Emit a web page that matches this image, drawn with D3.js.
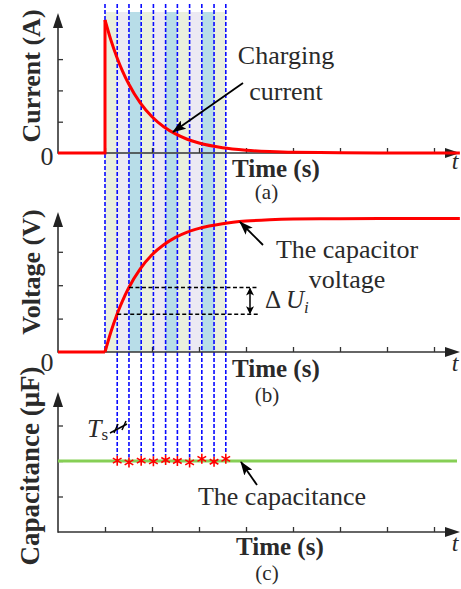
<!DOCTYPE html>
<html><head><meta charset="utf-8">
<script src="https://cdn.jsdelivr.net/npm/d3@7"></script>
<style>
body{margin:0;background:#fff}
svg{display:block}
text{font-family:"Liberation Serif","Times New Roman",serif;fill:#2a2a2a}
</style>
</head><body><script>
// time axis ticks (arbitrary time units) and the sampling instants kTs
const timeTicks = [1, 2, 3, 4, 5, 6, 7, 8];
const sampleTimes = [1.00, 1.26, 1.51, 1.77, 2.03, 2.29, 2.54, 2.80, 3.06, 3.32, 3.57];
const bandColors = ["#eaf0de", "#ece9f3", "#b8dde8"];
const yTickValues = [1, 2, 3];

// charging current (t, i)
const currentStep = [[0, 0], [1, 0], [1, 4.25]];
const currentDecay = [[1.00, 4.25], [1.125, 3.61], [1.25, 3.07], [1.375, 2.61], [1.5, 2.22], [1.75, 1.60],
  [2.0, 1.16], [2.25, 0.84], [2.5, 0.61], [2.75, 0.44], [3.0, 0.32], [3.5, 0.17], [4.0, 0.09],
  [4.5, 0.045], [5.0, 0.02], [6.0, 0.01], [7.0, 0.0], [8.55, 0.0]];

// capacitor voltage (t, v)
const voltageFlat = [[0, 0], [1, 0]];
const voltageRise = [[1.0, 0], [1.125, 0.60], [1.25, 1.11], [1.375, 1.54], [1.5, 1.91], [1.75, 2.49],
  [2.0, 2.91], [2.25, 3.21], [2.5, 3.43], [2.75, 3.59], [3.0, 3.70], [3.5, 3.84], [4.0, 3.92],
  [4.5, 3.96], [5.0, 3.98], [6.0, 3.99], [7.0, 4.0], [8.55, 4.0]];
const deltaULevels = [1.13, 1.93];

// capacitance: reference level and the estimate at each sampling instant
const capacitanceLevel = 2.0;
const capacitanceSamples = [2.01, 1.96, 2.01, 1.99, 2.03, 2.00, 1.96, 2.06, 1.98, 2.06];

const W = 461, H = 589;
const svg = d3.select("body").append("svg").attr("width", W).attr("height", H);

const x = d3.scaleLinear().domain([0, 8]).range([58, 434]);
const yI = d3.scaleLinear().domain([0, 3]).range([153, 59.1]);
const yV = d3.scaleLinear().domain([0, 3]).range([352, 251.8]);
const yC = d3.scaleLinear().domain([0, 3]).range([532, 425.5]);

const defs = svg.append("defs");
defs.append("marker").attr("id", "ah").attr("markerUnits", "userSpaceOnUse")
  .attr("markerWidth", 14).attr("markerHeight", 10).attr("refX", 13).attr("refY", 5)
  .attr("orient", "auto")
  .append("path").attr("d", "M0,0 L14,5 L0,10 L3,5 Z").attr("fill", "#000");
defs.append("marker").attr("id", "ahs").attr("markerUnits", "userSpaceOnUse")
  .attr("markerWidth", 8).attr("markerHeight", 8).attr("refX", 7).attr("refY", 4)
  .attr("orient", "auto-start-reverse")
  .append("path").attr("d", "M0,0 L8,4 L0,8 L2,4 Z").attr("fill", "#000");

// shaded sampling intervals
const bandTop = 12;
svg.append("g").selectAll("rect").data(d3.range(sampleTimes.length - 1)).join("rect")
  .attr("x", i => x(sampleTimes[i]))
  .attr("width", i => x(sampleTimes[i + 1]) - x(sampleTimes[i]))
  .attr("y", bandTop).attr("height", yV(0) - bandTop)
  .attr("fill", i => bandColors[i % 3]);

// sampling instants
svg.append("g").selectAll("line").data(sampleTimes).join("line")
  .attr("x1", d => x(d)).attr("x2", d => x(d))
  .attr("y1", 4)
  .attr("y2", (d, i) => i === 0 ? yV(0) : yC(capacitanceSamples[i - 1]) - 5)
  .attr("stroke", "#0a0aff").attr("stroke-width", 1.6).attr("stroke-dasharray", "4,2");

// axes for the three panels
const panels = [
  { y: yI, top: 13 },
  { y: yV, top: 212 },
  { y: yC, top: 392 }
];
const axisColor = "#333";
panels.forEach(p => {
  const y0 = p.y(0);
  const gx = svg.append("g").attr("transform", `translate(0,${y0})`)
    .call(d3.axisTop(x).tickValues(timeTicks).tickSize(5).tickSizeOuter(0).tickFormat(""));
  gx.select(".domain").remove();
  gx.selectAll("line").attr("stroke", axisColor).attr("stroke-width", 1.3);
  const gy = svg.append("g").attr("transform", `translate(${x(0)},0)`)
    .call(d3.axisRight(p.y).tickValues(yTickValues).tickSize(5).tickSizeOuter(0).tickFormat(""));
  gy.select(".domain").remove();
  gy.selectAll("line").attr("stroke", axisColor).attr("stroke-width", 1.3);
  svg.append("line").attr("x1", x(0)).attr("x2", 448).attr("y1", y0).attr("y2", y0)
    .attr("stroke", axisColor).attr("stroke-width", 1.6);
  svg.append("line").attr("x1", x(0)).attr("x2", x(0)).attr("y1", y0 + 0.8).attr("y2", p.top + 10)
    .attr("stroke", axisColor).attr("stroke-width", 1.6);
  svg.append("path").attr("d", `M460,${y0} L445,${y0 - 5} L445,${y0 + 5} Z`).attr("fill", "#222");
  svg.append("path").attr("d", `M${x(0)},${p.top} L${x(0) - 5},${p.top + 15} L${x(0) + 5},${p.top + 15} Z`).attr("fill", "#222");
});

// curves
const red = "#ff0000";
const lineI = d3.line().x(d => x(d[0])).y(d => yI(d[1]));
const lineV = d3.line().x(d => x(d[0])).y(d => yV(d[1]));
svg.append("path").attr("d", lineI(currentStep)).attr("fill", "none").attr("stroke", red)
  .attr("stroke-width", 3).attr("stroke-linejoin", "miter");
svg.append("path").attr("d", lineI.curve(d3.curveMonotoneX)(currentDecay)).attr("fill", "none")
  .attr("stroke", red).attr("stroke-width", 3);
svg.append("path").attr("d", lineV(voltageFlat)).attr("fill", "none").attr("stroke", red).attr("stroke-width", 3);
svg.append("path").attr("d", lineV.curve(d3.curveMonotoneX)(voltageRise)).attr("fill", "none")
  .attr("stroke", red).attr("stroke-width", 3).attr("stroke-linejoin", "round");

// ΔU between two consecutive samples
const dUEnd = 258;
deltaULevels.forEach((v, k) => {
  svg.append("line").attr("x1", x(sampleTimes[k + 1])).attr("x2", dUEnd)
    .attr("y1", yV(v)).attr("y2", yV(v))
    .attr("stroke", "#000").attr("stroke-width", 1.4).attr("stroke-dasharray", "4,2.5");
});
svg.append("line").attr("x1", 250).attr("x2", 250)
  .attr("y1", yV(deltaULevels[1]) + 1).attr("y2", yV(deltaULevels[0]) - 1)
  .attr("stroke", "#000").attr("stroke-width", 1.5)
  .attr("marker-start", "url(#ahs)").attr("marker-end", "url(#ahs)");

// capacitance level and sampled estimates
svg.append("line").attr("x1", x(0)).attr("x2", 457)
  .attr("y1", yC(capacitanceLevel)).attr("y2", yC(capacitanceLevel))
  .attr("stroke", "#86cf55").attr("stroke-width", 3);
const star = d3.symbol().type(d3.symbolAsterisk).size(70);
svg.append("g").selectAll("path").data(capacitanceSamples).join("path")
  .attr("transform", (d, i) => `translate(${x(sampleTimes[i + 1])},${yC(d)})`)
  .attr("d", star()).attr("fill", "none").attr("stroke", red).attr("stroke-width", 1.6);

// annotation arrows
const arrow = (x1, y1, x2, y2) => svg.append("line")
  .attr("x1", x1).attr("y1", y1).attr("x2", x2).attr("y2", y2)
  .attr("stroke", "#000").attr("stroke-width", 1.8).attr("marker-end", "url(#ah)");
arrow(243, 83, 173, 132);
arrow(263, 245, 240, 222);
arrow(257, 485, 241, 462);

// Ts marker
svg.append("line").attr("x1", 110).attr("y1", 433).attr("x2", 127).attr("y2", 424)
  .attr("stroke", "#000").attr("stroke-width", 1.5);
[[117, 123]].forEach(() => {});
svg.append("line").attr("x1", 118).attr("y1", 424).attr("x2", 114).attr("y2", 433)
  .attr("stroke", "#000").attr("stroke-width", 1.5);
svg.append("line").attr("x1", 126).attr("y1", 421).attr("x2", 122).attr("y2", 430)
  .attr("stroke", "#000").attr("stroke-width", 1.5);

// texts
const txt = (s, tx, ty, opts = {}) => svg.append("text").attr("x", tx).attr("y", ty)
  .attr("font-size", opts.size || 26).attr("font-weight", opts.bold ? "bold" : null)
  .attr("font-style", opts.italic ? "italic" : null)
  .attr("text-anchor", opts.anchor || "start").text(s);

const yLabel = (s, cx, cy, size) => svg.append("text")
  .attr("transform", `translate(${cx},${cy}) rotate(-90)`)
  .attr("text-anchor", "middle").attr("font-size", size).attr("font-weight", "bold").text(s);
yLabel("Current (A)", 40, 76, 26);
yLabel("Voltage (V)", 40, 272, 26);
yLabel("Capacitance (μF)", 39, 466, 27);

txt("0", 47, 165, { anchor: "middle" });
txt("0", 47, 371, { anchor: "middle" });

txt("Time (s)", 232, 177, { bold: true, size: 25 });
txt("Time (s)", 232, 377, { bold: true, size: 25 });
txt("Time (s)", 236, 555, { bold: true, size: 25 });
txt("(a)", 266.5, 199, { anchor: "middle", size: 21 });
txt("(b)", 267, 402, { anchor: "middle", size: 21 });
txt("(c)", 267, 580, { anchor: "middle", size: 21 });
txt("t", 455, 169, { italic: true, size: 24, anchor: "middle" });
txt("t", 455, 371, { italic: true, size: 24, anchor: "middle" });
txt("t", 455, 551, { italic: true, size: 24, anchor: "middle" });

txt("Charging", 286, 64, { anchor: "middle" });
txt("current", 286, 100, { anchor: "middle" });
txt("The capacitor", 347, 258, { anchor: "middle" });
txt("voltage", 347, 288, { anchor: "middle" });
txt("The capacitance", 282, 505, { anchor: "middle" });

const du = svg.append("text").attr("x", 265).attr("y", 308).attr("font-size", 25);
du.append("tspan").text("Δ ");
du.append("tspan").attr("font-style", "italic").text("U");
du.append("tspan").attr("font-style", "italic").attr("font-size", 17).attr("dy", 5).text("i");

const ts = svg.append("text").attr("x", 87).attr("y", 437).attr("font-size", 26);
ts.append("tspan").attr("font-style", "italic").text("T");
ts.append("tspan").attr("font-size", 17).attr("dy", 3).text("s");
</script></body></html>
